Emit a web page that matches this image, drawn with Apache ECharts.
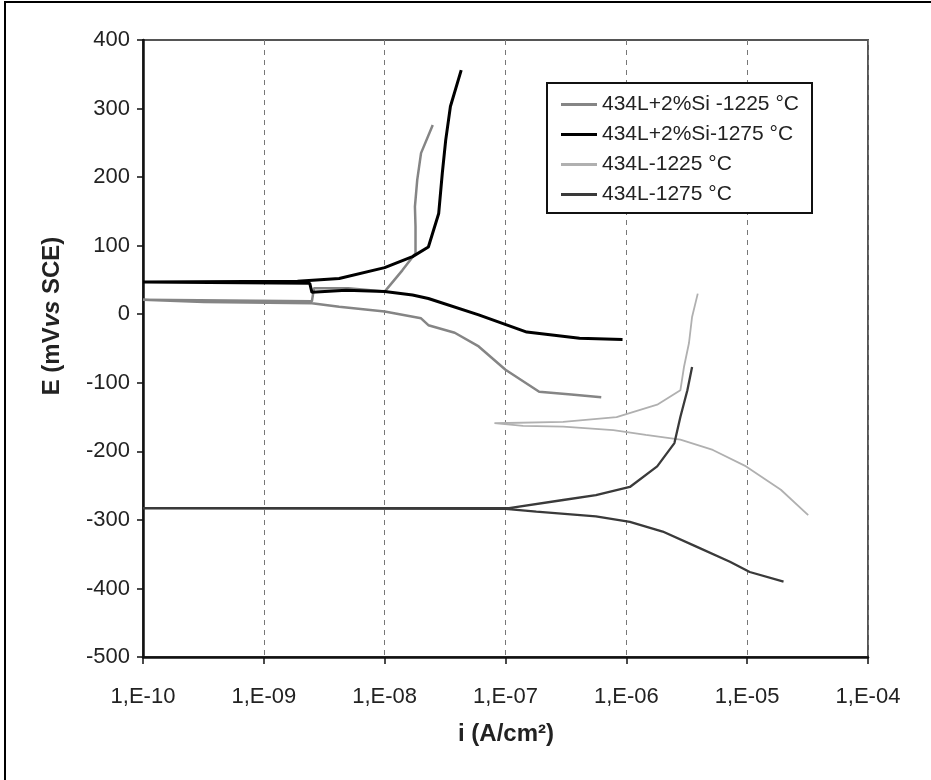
<!DOCTYPE html>
<html><head><meta charset="utf-8">
<script src="https://cdn.jsdelivr.net/npm/echarts@6/dist/echarts.min.js"></script>
<style>html,body{margin:0;padding:0;background:#fff}#c{width:931px;height:780px}</style>
</head><body><div id="c"></div>
<script>
// Tick labels
const xTickLabels = ['1,E-10','1,E-09','1,E-08','1,E-07','1,E-06','1,E-05','1,E-04'];
const seriesNames = ['434L+2%Si -1225 °C','434L+2%Si-1275 °C','434L-1225 °C','434L-1275 °C'];

// [current density A/cm2, potential mV] in scan order (cathodic end -> Ecorr -> anodic end)
const si1225 = [
  [6.2e-7,-121],[3.5e-7,-117],[1.9e-7,-113],[1.0e-7,-81],[6.0e-8,-47],[3.8e-8,-27],
  [2.3e-8,-16],[2.0e-8,-6],[1.0e-8,4],[4.2e-9,11],[2.5e-9,16],[3.2e-10,18],[1e-10,21],
  [2.5e-9,19],[2.6e-9,38],[5.0e-9,38],[1.0e-8,33],[1.4e-8,64],[1.8e-8,89],[1.8e-8,128],
  [1.78e-8,157],[1.86e-8,196],[2.0e-8,235],[2.5e-8,276]
];
const si1275 = [
  [9.3e-7,-37],[4.1e-7,-35],[1.5e-7,-26],[6.0e-8,-1],[2.3e-8,23],[1.7e-8,28],[1.0e-8,33],
  [4.8e-9,35],[2.5e-9,32],[2.4e-9,45],[1e-10,47],
  [1.9e-9,48],[4.2e-9,52],[1.0e-8,68],[1.7e-8,84],[2.3e-8,98],[2.8e-8,147],[3.0e-8,206],
  [3.2e-8,254],[3.5e-8,303],[4.3e-8,356]
];
const l1225 = [
  [3.2e-5,-293],[1.9e-5,-256],[9.8e-6,-222],[5.2e-6,-198],[2.8e-6,-183],[1.45e-6,-176],
  [7.8e-7,-169],[3.0e-7,-164],[1.4e-7,-163],[8.1e-8,-159],
  [3.0e-7,-157],[8.3e-7,-150],[1.8e-6,-132],[2.8e-6,-111],[3.0e-6,-77],[3.3e-6,-42],
  [3.5e-6,-4],[3.9e-6,30]
];
const l1275 = [
  [2.0e-5,-390],[1.05e-5,-376],[7.2e-6,-361],[3.8e-6,-339],[2.0e-6,-317],[1.07e-6,-303],
  [5.6e-7,-295],[1.8e-7,-288],[1.0e-7,-284],[1e-10,-283],
  [1.07e-7,-283],[3.0e-7,-271],[5.6e-7,-264],[1.07e-6,-252],[1.8e-6,-222],[2.5e-6,-188],
  [2.8e-6,-150],[3.2e-6,-111],[3.5e-6,-77]
];

const font = 'Liberation Sans, Arial, sans-serif';
const chart = echarts.init(document.getElementById('c'), null, {renderer:'canvas'});

function mk(name, data, color, width) {
  return {
    name, type:'line', data, showSymbol:false, symbol:'none', smooth:false,
    lineStyle:{color, width}, itemStyle:{color}, animation:false, z:3
  };
}

chart.setOption({
  animation:false,
  backgroundColor:'#fff',
  grid:{left:143, right:63, top:40, bottom:123, show:true, borderColor:'#555', borderWidth:2, backgroundColor:'transparent'},
  xAxis:{
    type:'log', logBase:10, min:1e-10, max:1e-4,
    axisLine:{show:true, onZero:false, lineStyle:{color:'#111', width:2.5}},
    axisTick:{show:true, length:7, lineStyle:{color:'#111', width:1.5}},
    splitLine:{show:true, lineStyle:{color:'#777', type:[5,5], width:1}},
    minorTick:{show:false}, minorSplitLine:{show:false},
    axisLabel:{margin:29, color:'#222', fontSize:22, fontFamily:font,
      formatter:v => xTickLabels[Math.round(Math.log10(v))+10]}
  },
  yAxis:{
    type:'value', min:-500, max:400, interval:100,
    axisLine:{show:true, onZero:false, lineStyle:{color:'#111', width:2.5}},
    axisTick:{show:true, length:6, lineStyle:{color:'#111', width:1.5}},
    splitLine:{show:false},
    axisLabel:{margin:13, color:'#222', fontSize:22, fontFamily:font}
  },
  legend:{
    orient:'vertical', left:556, top:89, itemWidth:36, itemHeight:3, itemGap:9,
    icon:'rect', z:10, textStyle:{fontSize:21, color:'#222', fontFamily:font},
    data:seriesNames
  },
  graphic:[
    {type:'rect', shape:{x:5, y:2, width:940, height:800}, style:{fill:null, stroke:'#000', lineWidth:2}, z:0, silent:true},
    {type:'rect', shape:{x:547, y:83, width:265, height:130}, style:{fill:'#fff', stroke:'#111', lineWidth:2}, z:5, silent:true},
    {type:'text', x:52, y:316, rotation:Math.PI/2, silent:true, z:5,
      style:{text:'{b|E (mV}{i|vs}{b| SCE)}', align:'center', verticalAlign:'middle',
        rich:{b:{fontSize:24, fontWeight:'bold', fill:'#222', fontFamily:font},
              i:{fontSize:24, fontWeight:'bold', fontStyle:'italic', fill:'#222', fontFamily:font}}}},
    {type:'text', x:506, y:734, silent:true, z:5,
      style:{text:'i (A/cm²)', align:'center', verticalAlign:'middle', fontSize:24, fontWeight:'bold', fill:'#222', fontFamily:font}}
  ],
  series:[
    mk(seriesNames[0], si1225, '#858585', 2.5),
    mk(seriesNames[1], si1275, '#000000', 3),
    mk(seriesNames[2], l1225, '#b0b0b0', 1.8),
    mk(seriesNames[3], l1275, '#3a3a3a', 2.3)
  ]
});
</script></body></html>
